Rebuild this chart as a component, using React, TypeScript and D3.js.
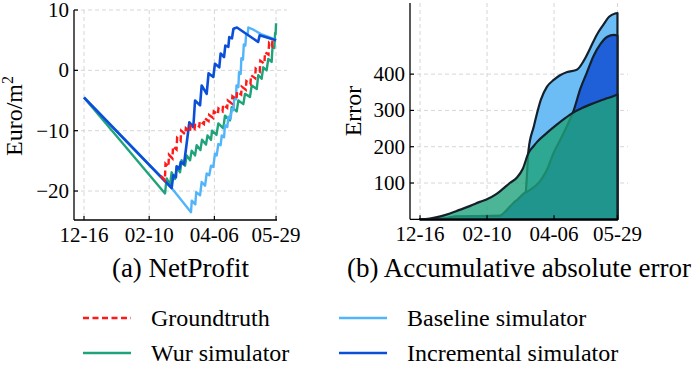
import React from "react";
import * as d3 from "d3";

// days counted from 2019-12-16
const tickDays = [0, 56, 112, 165];
const tickLabels = ["12-16", "02-10", "04-06", "05-29"];
const profitTicks = [10, 0, -10, -20];
const errorTicks = [100, 200, 300, 400];

// (a) NetProfit, [day, euro/m2]
const groundtruth = [
  [66, -17.5], [69.5, -18.2], [70, -15.5], [72.5, -16.0], [73, -14.0], [76, -14.6], [76.5, -12.6],
  [79.5, -13.1], [80, -11.2], [83, -11.7], [83.5, -10.0], [87, -10.6], [87.5, -9.6], [91, -10.2],
  [91.5, -9.2], [95, -9.7], [95.5, -8.8], [99, -9.3], [99.5, -8.4], [103, -8.9], [103.5, -7.9],
  [107, -8.4], [107.5, -7.4], [111, -7.9], [111.5, -6.8], [115, -7.3], [115.5, -6.3], [119, -6.8],
  [119.5, -5.7], [123, -6.2], [123.5, -5.0], [127, -5.5], [127.5, -4.3], [131, -4.8], [131.5, -3.5],
  [135, -4.0], [135.5, -2.7], [139, -3.2], [139.5, -1.8], [143, -2.3], [143.5, -0.8], [147, -1.3],
  [147.5, 0.3], [151, -0.2], [151.5, 1.6], [155, 1.1], [155.5, 3.0], [158.5, 2.6], [159, 4.5],
  [161.5, 4.0], [162, 5.2],
];
const wurProfit = [
  [0, -4.5], [69.6, -20.4], [71.0, -17.9], [73.9, -19.0], [75.3, -16.9], [78.2, -18.0], [79.6, -16.0],
  [82.5, -16.9], [83.9, -14.9], [86.8, -15.8], [88.2, -14.1], [91.1, -14.9], [92.5, -13.3], [95.4, -14.1],
  [96.8, -12.4], [100, -13.2], [101.4, -11.5], [104.8, -12.3], [106.1, -10.8], [109.1, -11.5], [110, -10.0],
  [113.8, -10.7], [115.4, -8.8], [119.7, -9.6], [121.1, -7.5], [125.4, -8.3], [126.9, -6.1], [131.2, -6.8],
  [132.6, -5.0], [136.9, -5.6], [138.3, -3.9], [142.6, -4.4], [144.1, -2.5], [148.4, -3.1], [149.7, -0.8],
  [152.6, -1.4], [154, 0.5], [156.9, 0.0], [158.3, 1.9], [161.2, 1.4], [162, 4.0], [163.5, 3.7],
  [164.2, 6.2], [164.6, 6.0], [165, 7.8],
];
const baselineProfit = [
  [0, -4.5], [75.3, -19.5], [91.9, -23.5], [92.6, -21.6], [95.6, -22.2], [96.4, -20.2], [99.7, -20.7],
  [101.1, -18.5], [104, -19.1], [105.4, -17.1], [107.6, -17.4], [109.1, -15.8], [111.1, -16.0],
  [112.5, -13.8], [114, -14.1], [115.4, -12.2], [117.4, -12.4], [118.3, -10.8], [120.3, -11.1],
  [121.1, -9.1], [123.1, -9.4], [124, -7.7], [126, -8.0], [126.9, -6.4], [128.5, -6.6], [129, -4.5],
  [130.6, -4.8], [131, -2.5], [132.6, -2.8], [133.2, -0.3], [134.6, -0.6], [135.2, 2.0], [136.6, 1.8],
  [137.3, 4.3], [138.6, 4.1], [139.3, 6.0], [140.6, 5.9], [141.2, 7.1], [146, 6.7], [152, 6.0],
  [158, 5.6], [165, 5.0],
];
const incrementalProfit = [
  [0, -4.5], [75.3, -19.5], [76.7, -17.4], [79, -17.7], [79.6, -15.9], [81.9, -16.3], [83.1, -15.2],
  [85.9, -15.6], [90.5, -8.6], [93.9, -9.4], [95.4, -5.0], [99.7, -5.8], [101.1, -2.5], [105.4, -3.9],
  [107, -0.5], [111.1, -1.1], [112.5, 1.1], [116.2, 0.5], [117.4, 2.8], [120.3, 2.2], [121.4, 4.1],
  [124, 3.9], [124.8, 5.5], [127.1, 5.3], [128.4, 6.9], [131.4, 7.1], [149.6, 4.7], [150.9, 5.8],
  [165, 5.0],
];

// (b) Accumulative absolute error, [day, error]
const wurError = [
  [0, 0], [8, 2], [17, 8], [25, 16], [33, 26], [42, 37], [50, 48], [55, 54], [64, 70], [70, 86],
  [75, 100], [81, 115], [86, 140], [90.5, 182], [95, 202], [98, 214], [106, 238], [114, 260],
  [121, 278], [128, 294], [135, 306], [142, 316], [150, 326], [157, 334], [165, 344],
];
const baselineError = [
  [0, 0], [20, 2], [30, 7], [67, 9], [80, 40], [88, 68], [90.7, 192], [95, 255], [101, 330],
  [106, 365], [111.7, 384], [117, 397], [123, 406], [131, 412], [137, 438], [142, 470], [148, 510],
  [153, 535], [158, 558], [163, 567], [165, 568],
];
const incrementalError = [
  [0, 0], [20, 2], [30, 8], [67, 10], [69.5, 16], [78, 45], [81, 53], [87, 72], [92, 81], [100, 104],
  [106, 136], [111.5, 182], [117, 218], [125, 273], [128.4, 300], [134, 360], [139.5, 405], [145, 450],
  [151, 484], [156.5, 503], [162, 508], [165, 506],
];

const FONT = "Liberation Serif, Tinos, DejaVu Serif, Times New Roman, serif";
const RED = "#ff1a1a";
const GREEN = "#1fa37a";
const LIGHT = "#52b4fa";
const DARK = "#0b4fd9";
const GRID = "#d6d6d6";

export default function App() {
  const xL = d3.scaleLinear().domain([-8.6, 174.4]).range([74, 287]);
  const yL = d3.scaleLinear().domain([-24.8, 10]).range([220, 10]);
  const xR = d3.scaleLinear().domain([-8.4, 173.8]).range([410, 628]);
  const yR = d3.scaleLinear().domain([0, 596]).range([219.3, 3]);

  const lineL = d3
    .line<number[]>()
    .x((d) => xL(d[0]))
    .y((d) => yL(d[1]));
  const areaR = d3
    .area<number[]>()
    .x((d) => xR(d[0]))
    .y0(yR(0))
    .y1((d) => yR(d[1]))
    .curve(d3.curveMonotoneX);
  const closed = (data: number[][]) => areaR(data) + "Z";

  const legend = [
    { label: "Groundtruth", color: RED, dash: "6,3.5", x: 83, y: 318 },
    { label: "Wur simulator", color: GREEN, dash: null, x: 83, y: 353 },
    { label: "Baseline simulator", color: LIGHT, dash: null, x: 339, y: 318 },
    { label: "Incremental simulator", color: DARK, dash: null, x: 339, y: 353 },
  ];

  const txt = { fontFamily: FONT };

  return (
    <svg
      width={698}
      height={368}
      style={{ position: "absolute", left: 0, top: 0, background: "#fff", fontFamily: FONT }}
    >
      {/* ---------- (a) NetProfit ---------- */}
      <g>
        {tickDays.map((t) => (
          <line key={"gv" + t} x1={xL(t)} x2={xL(t)} y1={10} y2={220} stroke={GRID} strokeDasharray="4,3" />
        ))}
        {profitTicks.map((t) => (
          <line key={"gh" + t} x1={74} x2={287} y1={yL(t)} y2={yL(t)} stroke={GRID} strokeDasharray="4,3" />
        ))}
        <path d={lineL(wurProfit)!} fill="none" stroke={GREEN} strokeWidth={2.4} strokeLinejoin="round" />
        <path d={lineL(baselineProfit)!} fill="none" stroke={LIGHT} strokeWidth={2.4} strokeLinejoin="round" />
        <path d={lineL(incrementalProfit)!} fill="none" stroke={DARK} strokeWidth={2.6} strokeLinejoin="round" />
        <path d={lineL(groundtruth)!} fill="none" stroke={RED} strokeWidth={2.4} strokeDasharray="6,3.5" />

        <line x1={74} x2={74} y1={10} y2={220} stroke="#000" strokeWidth={1.3} />
        <line x1={74} x2={277} y1={220} y2={220} stroke="#000" strokeWidth={1.3} />
        {profitTicks.map((t) => (
          <g key={"yt" + t}>
            <line x1={74} x2={78} y1={yL(t)} y2={yL(t)} stroke="#000" strokeWidth={1.2} />
            <text x={69} y={yL(t) + 7} textAnchor="end" fontSize={21} style={txt}>
              {t < 0 ? "\u2212" + Math.abs(t) : t}
            </text>
          </g>
        ))}
        {tickDays.map((t, i) => (
          <g key={"xt" + t}>
            <line x1={xL(t)} x2={xL(t)} y1={220} y2={216} stroke="#000" strokeWidth={1.2} />
            <text x={xL(t)} y={242} textAnchor="middle" fontSize={21} style={txt}>
              {tickLabels[i]}
            </text>
          </g>
        ))}
        <text transform="translate(22,116) rotate(-90)" textAnchor="middle" fontSize={24} style={txt}>
          Euro/m<tspan dy={-9} fontSize={16}>2</tspan>
        </text>
        <text x={180.5} y={277} textAnchor="middle" fontSize={27} style={txt}>
          (a) NetProfit
        </text>
      </g>

      {/* ---------- (b) Accumulative absolute error ---------- */}
      <g>
        {tickDays.map((t) => (
          <line key={"rgv" + t} x1={xR(t)} x2={xR(t)} y1={3} y2={219} stroke={GRID} strokeDasharray="4,3" />
        ))}
        {errorTicks.map((t) => (
          <line key={"rgh" + t} x1={410} x2={628} y1={yR(t)} y2={yR(t)} stroke={GRID} strokeDasharray="4,3" />
        ))}
        <path d={closed(baselineError)} fill="#6cbdf6" stroke="#15202b" strokeWidth={2.2} strokeLinejoin="round" />
        <path d={closed(incrementalError)} fill="#1f60d8" stroke="#15202b" strokeWidth={2.2} strokeLinejoin="round" />
        <path
          d={closed(wurError)}
          fill={GREEN}
          fillOpacity={0.8}
          stroke="#15202b"
          strokeWidth={2.2}
          strokeLinejoin="round"
        />
        <line x1={410} x2={410} y1={3} y2={219.3} stroke="#000" strokeWidth={1.3} />
        <line x1={410} x2={618} y1={219.3} y2={219.3} stroke="#000" strokeWidth={1.3} />
        {errorTicks.map((t) => (
          <g key={"ryt" + t}>
            <line x1={410} x2={414} y1={yR(t)} y2={yR(t)} stroke="#000" strokeWidth={1.2} />
            <text x={405} y={yR(t) + 7} textAnchor="end" fontSize={21} style={txt}>
              {t}
            </text>
          </g>
        ))}
        {tickDays.map((t, i) => (
          <g key={"rxt" + t}>
            <line x1={xR(t)} x2={xR(t)} y1={219.3} y2={215.3} stroke="#000" strokeWidth={1.2} />
            <text x={xR(t)} y={241} textAnchor="middle" fontSize={21} style={txt}>
              {tickLabels[i]}
            </text>
          </g>
        ))}
        <text transform="translate(361,111) rotate(-90)" textAnchor="middle" fontSize={24} style={txt}>
          Error
        </text>
        <text x={519} y={277} textAnchor="middle" fontSize={27} style={txt}>
          (b) Accumulative absolute error
        </text>
      </g>

      {/* ---------- legend ---------- */}
      {legend.map((l) => (
        <g key={l.label}>
          <line
            x1={l.x}
            x2={l.x + 48}
            y1={l.y}
            y2={l.y}
            stroke={l.color}
            strokeWidth={2.4}
            strokeDasharray={l.dash ?? undefined}
          />
          <text x={l.x + 68} y={l.y + 8} fontSize={24} style={txt}>
            {l.label}
          </text>
        </g>
      ))}
    </svg>
  );
}
